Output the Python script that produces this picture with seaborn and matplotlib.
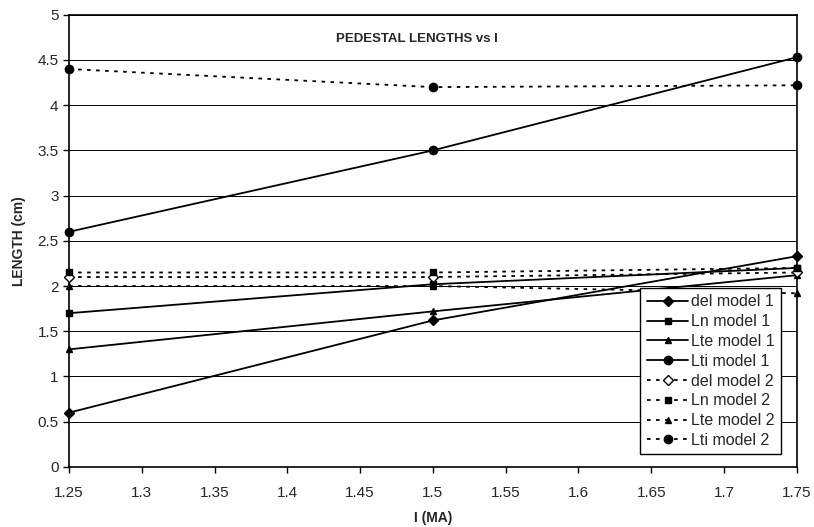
import pandas as pd
import matplotlib.pyplot as plt
import seaborn as sns

# data
current = [1.25, 1.5, 1.75]
series_names = ["del model 1", "Ln model 1", "Lte model 1", "Lti model 1",
                "del model 2", "Ln model 2", "Lte model 2", "Lti model 2"]
del_m1 = [0.6, 1.62, 2.33]
ln_m1 = [1.7, 2.02, 2.2]
lte_m1 = [1.3, 1.72, 2.12]
lti_m1 = [2.6, 3.5, 4.53]
del_m2 = [2.1, 2.1, 2.15]
ln_m2 = [2.15, 2.15, 2.2]
lte_m2 = [2.0, 2.0, 1.92]
lti_m2 = [4.4, 4.2, 4.22]
values = [del_m1, ln_m1, lte_m1, lti_m1, del_m2, ln_m2, lte_m2, lti_m2]

sns.set_style("white")
plt.rcParams['font.family'] = ['Liberation Sans', 'DejaVu Sans']

fig = plt.figure(figsize=(8.14, 5.27), dpi=100)
ax = fig.add_axes([0.0848, 0.114, 0.894, 0.858])

markers = ["D", "s", "^", "o", "D", "s", "^", "o"]
for name, vals, mk in zip(series_names, values, markers):
    model2 = name.endswith("2")
    df = pd.DataFrame({"I": current, "L": vals})
    sns.lineplot(data=df, x="I", y="L", ax=ax, color="black",
                 linestyle=(0, (2, 3)) if model2 else "-",
                 linewidth=1.3, marker=mk, markersize=5 if mk != "o" else 6,
                 markerfacecolor="white" if name == "del model 2" else "black",
                 markeredgecolor="black", markeredgewidth=1.0,
                 label=name, zorder=3, clip_on=False)

ax.set_xlim(1.25, 1.75)
ax.set_ylim(0, 5)
ax.set_xticks([1.25 + 0.05 * i for i in range(11)])
ax.set_xticklabels(["1.25", "1.3", "1.35", "1.4", "1.45", "1.5", "1.55",
                    "1.6", "1.65", "1.7", "1.75"])
ax.set_yticks([0.5 * i for i in range(11)])
ax.set_yticklabels(["0", "0.5", "1", "1.5", "2", "2.5", "3", "3.5", "4", "4.5", "5"])
ax.tick_params(axis="both", direction="out", length=4, width=1, color="black",
               labelsize=11, bottom=True, left=True)
ax.tick_params(axis="x", pad=10)
ax.grid(axis="y", color="black", linewidth=0.7)
ax.set_axisbelow(True)
for sp in ax.spines.values():
    sp.set_color("black")
    sp.set_linewidth(1.2)

ax.set_xlabel("I (MA)", fontsize=10, fontweight="bold", labelpad=8)
ax.set_ylabel("LENGTH (cm)", fontsize=10, fontweight="bold", labelpad=8)
ax.text(0.478, 0.947, "PEDESTAL LENGTHS vs I", transform=ax.transAxes,
        ha="center", va="center", fontsize=9.5, fontweight="bold")

leg = ax.legend(loc="lower right", bbox_to_anchor=(0.99, 0.01), fontsize=11.5,
                frameon=True, fancybox=False, handlelength=2.6,
                labelspacing=0.3, borderpad=0.4, handletextpad=0.2)
leg.get_frame().set_edgecolor("black")
leg.get_frame().set_linewidth(1.0)
leg.get_frame().set_alpha(1)
leg.set_zorder(5)

fig.savefig("out.png", dpi=100)
